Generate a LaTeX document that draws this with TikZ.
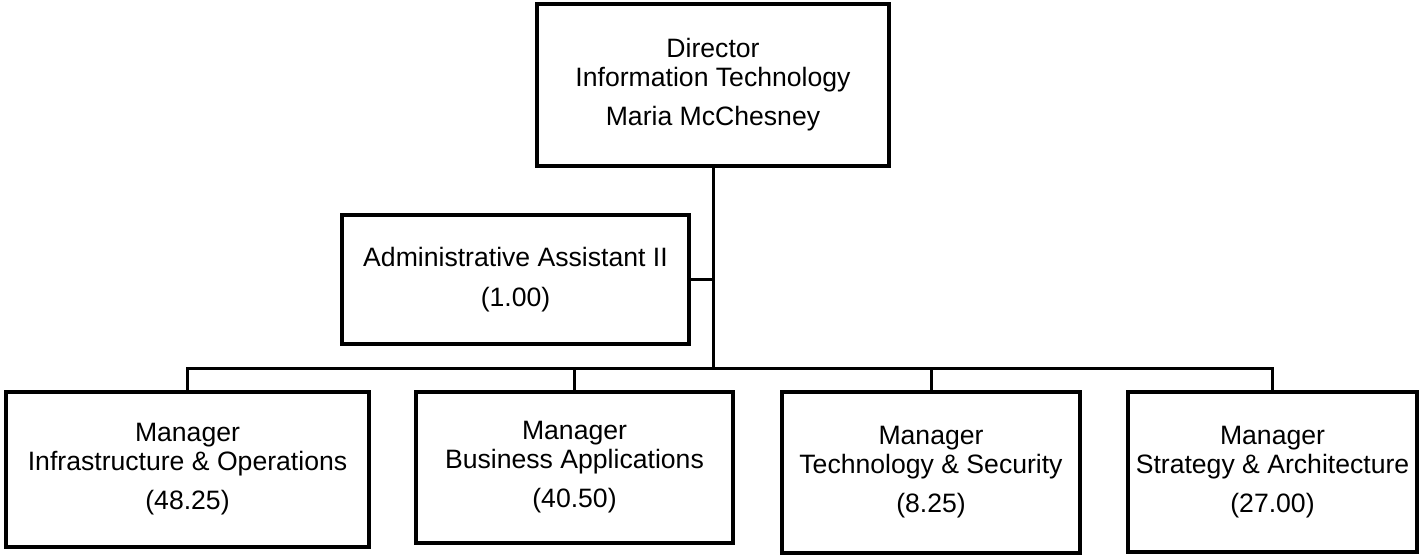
\documentclass[tikz,border=0pt]{standalone}
\usepackage{fontspec}
\setmainfont{Liberation Sans}
\begin{document}
\begin{tikzpicture}[x=1pt,y=-1pt,
  box/.style={draw=black, line width=3.5pt, fill=white, inner sep=0pt, align=center,
    font=\fontsize{26.6}{29}\selectfont},
  conn/.style={draw=black, line width=3pt}]
\useasboundingbox (0,0) rectangle (1421,556);
\node[box, minimum width=352pt, minimum height=162pt] (dir) at (713,85)
  {Director\\Information Technology\\[10pt]Maria McChesney};
\node[box, minimum width=347pt, minimum height=129pt] (adm) at (515.5,279.5)
  {Administrative Assistant II\\[11pt](1.00)};
\node[box, minimum width=363pt, minimum height=155pt] (m1) at (187.5,469.5)
  {Manager\\Infrastructure \& Operations\\[10pt](48.25)};
\node[box, minimum width=317pt, minimum height=151pt] (m2) at (574.5,467.5)
  {Manager\\Business Applications\\[10pt](40.50)};
\node[box, minimum width=298pt, minimum height=161pt] (m3) at (931,472.5)
  {Manager\\Technology \& Security\\[10pt](8.25)};
\node[box, minimum width=289pt, minimum height=160pt] (m4) at (1272.5,472)
  {Manager\\Strategy \& Architecture\\[10pt](27.00)};
\coordinate (bus) at (713,368);
\draw[conn] (dir.south) -- (bus);
\draw[conn] (adm.east) -- (adm.east -| bus);
\draw[conn] (m1.north) -- (m1.north |- bus) -- (m4.north |- bus) -- (m4.north);
\draw[conn] (m2.north) -- (m2.north |- bus);
\draw[conn] (m3.north) -- (m3.north |- bus);
\end{tikzpicture}
\end{document}
